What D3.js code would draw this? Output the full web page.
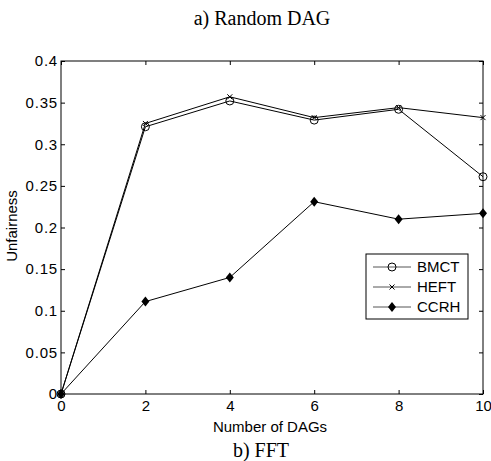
<!DOCTYPE html>
<html><head><meta charset="utf-8">
<script src="https://cdn.jsdelivr.net/npm/d3@7"></script>
<style>body{margin:0;background:#fff}svg{display:block}</style>
</head><body>
<script>
const xValues = [0, 2, 4, 6, 8, 10];
const bmct = [0, 0.321, 0.352, 0.329, 0.342, 0.261];
const heft = [0, 0.325, 0.357, 0.332, 0.344, 0.332];
const ccrh = [0, 0.111, 0.140, 0.231, 0.210, 0.217];
const seriesNames = ["BMCT", "HEFT", "CCRH"];
const xTicks = [0, 2, 4, 6, 8, 10];
const yTicks = [0, 0.05, 0.1, 0.15, 0.2, 0.25, 0.3, 0.35, 0.4];

const W = 491, H = 461;
const m = {l: 61, r: 8, t: 61, b: 67};
const svg = d3.select("body").append("svg").attr("width", W).attr("height", H);
const x = d3.scaleLinear().domain([0, 10]).range([m.l, W - m.r]);
const y = d3.scaleLinear().domain([0, 0.4]).range([H - m.b, m.t]);
const fmt = d => d === 0 ? "0" : String(+d.toFixed(2));

const sans = "Liberation Sans, Arial, sans-serif";
const serif = "Liberation Serif, Times New Roman, serif";

// axes box
svg.append("rect").attr("x", x(0)).attr("y", y(0.4)).attr("width", x(10) - x(0)).attr("height", y(0) - y(0.4))
  .attr("fill", "none").attr("stroke", "#000").attr("stroke-width", 1);

const tl = 4;
const gB = svg.append("g").attr("transform", `translate(0,${y(0)})`)
  .call(d3.axisBottom(x).tickValues(xTicks).tickSizeInner(-tl).tickSizeOuter(0).tickPadding(6).tickFormat(fmt));
const gT = svg.append("g").attr("transform", `translate(0,${y(0.4)})`)
  .call(d3.axisTop(x).tickValues(xTicks).tickSizeInner(-tl).tickSizeOuter(0).tickFormat(""));
const gL = svg.append("g").attr("transform", `translate(${x(0)},0)`)
  .call(d3.axisLeft(y).tickValues(yTicks).tickSizeInner(-tl).tickSizeOuter(0).tickPadding(3).tickFormat(fmt));
const gR = svg.append("g").attr("transform", `translate(${x(10)},0)`)
  .call(d3.axisRight(y).tickValues(yTicks).tickSizeInner(-tl).tickSizeOuter(0).tickFormat(""));
[gB, gT, gL, gR].forEach(g => {
  g.select(".domain").remove();
  g.selectAll("line").attr("stroke", "#000");
  g.selectAll("text").attr("fill", "#000").style("font-family", sans).style("font-size", "15px");
});
gB.selectAll("text").attr("dy", "0.71em");
gL.selectAll("text").style("letter-spacing", "0.8px");

// lines
const line = d3.line().x((d, i) => x(xValues[i])).y(d => y(d));
const data = [bmct, heft, ccrh];
data.forEach(s => {
  svg.append("path").datum(s).attr("d", line).attr("fill", "none").attr("stroke", "#000").attr("stroke-width", 1);
});

function marker(g, type, cx, cy) {
  if (type === 0) {
    g.append("circle").attr("cx", cx).attr("cy", cy).attr("r", 4).attr("fill", "none").attr("stroke", "#000").attr("stroke-width", 1);
  } else if (type === 1) {
    const s = 2.5;
    g.append("path").attr("d", `M${cx - s},${cy - s}L${cx + s},${cy + s}M${cx - s},${cy + s}L${cx + s},${cy - s}`)
      .attr("stroke", "#000").attr("stroke-width", 1);
  } else {
    const s = 5;
    g.append("path").attr("d", `M${cx},${cy - s}L${cx + s * 0.8},${cy}L${cx},${cy + s}L${cx - s * 0.8},${cy}Z`).attr("fill", "#000");
  }
}
const mg = svg.append("g");
data.forEach((s, k) => s.forEach((v, i) => marker(mg, k, x(xValues[i]), y(v))));

// legend
const lg = svg.append("g");
lg.append("rect").attr("x", 366).attr("y", 254).attr("width", 102).attr("height", 65)
  .attr("fill", "#fff").attr("stroke", "#000").attr("stroke-width", 1);
seriesNames.forEach((n, k) => {
  const ly = 267 + k * 20;
  lg.append("line").attr("x1", 373).attr("x2", 411).attr("y1", ly).attr("y2", ly).attr("stroke", "#555").attr("stroke-width", 1);
  marker(lg, k, 392, ly);
  lg.append("text").attr("x", 417).attr("y", ly).attr("dy", "0.36em").text(n)
    .style("font-family", sans).style("font-size", "15px").attr("fill", "#000");
});

// labels
svg.append("text").attr("x", 262).attr("y", 25).attr("text-anchor", "middle").text("a) Random DAG")
  .style("font-family", serif).style("font-size", "20px");
svg.append("text").attr("x", 270).attr("y", 432).attr("text-anchor", "middle").text("Number of DAGs")
  .style("font-family", sans).style("font-size", "15px");
svg.append("text").attr("x", 261).attr("y", 457).attr("text-anchor", "middle").text("b) FFT")
  .style("font-family", serif).style("font-size", "20px");
svg.append("text").attr("transform", "translate(17,226) rotate(-90)").attr("text-anchor", "middle").text("Unfairness")
  .style("font-family", sans).style("font-size", "15px");
</script>
</body></html>
